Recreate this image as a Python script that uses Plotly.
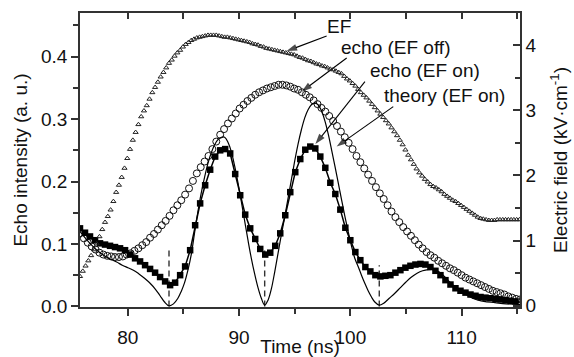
import plotly.graph_objects as go

# ---------------- data ----------------
# EF (right axis, kV/cm), regularly sampled
ef_t0, ef_dt = 75.7, 0.25
ef_vals = [0.45, 0.53, 0.61, 0.69, 0.77, 0.86, 0.95, 1.06, 1.17, 1.28,
           1.37, 1.47, 1.60, 1.74, 1.85, 1.97, 2.11, 2.26, 2.40, 2.54,
           2.66, 2.78, 2.90, 2.99, 3.07, 3.17, 3.27, 3.35, 3.43, 3.51,
           3.58, 3.65, 3.72, 3.77, 3.83, 3.88, 3.92, 3.97, 4.01, 4.04,
           4.07, 4.09, 4.11, 4.12, 4.13, 4.14, 4.15, 4.15, 4.15, 4.15,
           4.14, 4.13, 4.12, 4.12, 4.11, 4.10, 4.09, 4.08, 4.07, 4.06,
           4.05, 4.04, 4.02, 4.01, 4.00, 3.98, 3.97, 3.95, 3.94, 3.93,
           3.92, 3.91, 3.90, 3.89, 3.88, 3.87, 3.86, 3.85, 3.83, 3.81,
           3.80, 3.78, 3.76, 3.75, 3.73, 3.71, 3.70, 3.68, 3.67, 3.65,
           3.63, 3.62, 3.60, 3.58, 3.56, 3.52, 3.48, 3.45, 3.41, 3.37,
           3.32, 3.27, 3.23, 3.19, 3.14, 3.09, 3.04, 2.99, 2.94, 2.89,
           2.84, 2.79, 2.73, 2.67, 2.61, 2.54, 2.47, 2.39, 2.31, 2.24,
           2.17, 2.10, 2.04, 1.99, 1.94, 1.90, 1.86, 1.83, 1.81, 1.78,
           1.75, 1.71, 1.68, 1.65, 1.62, 1.60, 1.57, 1.54, 1.51, 1.48,
           1.45, 1.42, 1.39, 1.36, 1.34, 1.33, 1.32, 1.31, 1.31, 1.31,
           1.32, 1.32, 1.32, 1.32, 1.32, 1.32, 1.32, 1.32, 1.32]

# echo (EF off), open circles
off_t0, off_dt = 75.7, 0.35
off_vals = [0.117, 0.109, 0.102, 0.096, 0.091, 0.086, 0.083, 0.081, 0.080, 0.079,
            0.079, 0.080, 0.083, 0.085, 0.089, 0.093, 0.098, 0.103, 0.110, 0.116,
            0.123, 0.130, 0.137, 0.145, 0.154, 0.162, 0.170, 0.179, 0.189, 0.201,
            0.213, 0.223, 0.232, 0.241, 0.252, 0.264, 0.275, 0.284, 0.293, 0.301,
            0.309, 0.317, 0.323, 0.329, 0.334, 0.339, 0.343, 0.346, 0.349, 0.351,
            0.353, 0.355, 0.355, 0.354, 0.352, 0.349, 0.347, 0.343, 0.339, 0.335,
            0.330, 0.324, 0.318, 0.312, 0.305, 0.297, 0.289, 0.280, 0.271, 0.262,
            0.252, 0.241, 0.231, 0.221, 0.211, 0.201, 0.191, 0.181, 0.172, 0.162,
            0.152, 0.143, 0.135, 0.127, 0.120, 0.113, 0.106, 0.099, 0.093, 0.087,
            0.082, 0.078, 0.073, 0.069, 0.065, 0.061, 0.058, 0.054, 0.050, 0.046,
            0.043, 0.040, 0.037, 0.034, 0.031, 0.028, 0.025, 0.023, 0.021, 0.019,
            0.016, 0.014, 0.012, 0.011]

# echo (EF on), filled squares
on_t0, on_dt = 75.7, 0.45
on_vals = [0.125, 0.118, 0.112, 0.106, 0.101, 0.099, 0.097, 0.095, 0.093, 0.090,
           0.083, 0.077, 0.072, 0.066, 0.060, 0.054, 0.047, 0.040, 0.034, 0.038,
           0.050, 0.064, 0.090, 0.130, 0.165, 0.194, 0.219, 0.240, 0.250, 0.252,
           0.245, 0.212, 0.178, 0.147, 0.125, 0.108, 0.092, 0.083, 0.086, 0.097,
           0.117, 0.146, 0.183, 0.215, 0.236, 0.251, 0.256, 0.253, 0.240, 0.222,
           0.198, 0.180, 0.155, 0.126, 0.106, 0.087, 0.074, 0.063, 0.056, 0.050,
           0.048, 0.049, 0.050, 0.054, 0.058, 0.062, 0.065, 0.067, 0.068, 0.067,
           0.063, 0.057, 0.050, 0.042, 0.035, 0.029, 0.025, 0.022, 0.019, 0.017,
           0.015, 0.014, 0.013, 0.012, 0.011, 0.010, 0.009, 0.008, 0.007]

# theory (EF on), solid line
th_t = [75.7, 76.2, 76.6, 77.1, 77.5, 78.0, 78.5, 79.0, 79.5, 80.0,
        80.5, 81.0, 81.5, 82.0, 82.5, 82.9, 83.3, 83.7, 84.1, 84.5,
        84.8, 85.1, 85.4, 85.7, 86.0, 86.3, 86.6, 86.9, 87.2, 87.5,
        87.8, 88.1, 88.4, 88.7, 89.0, 89.3, 89.6, 89.9, 90.2, 90.5,
        90.8, 91.1, 91.4, 91.7, 92.0, 92.3, 92.6, 92.9, 93.2, 93.5,
        93.8, 94.1, 94.4, 94.7, 95.0, 95.3, 95.6, 95.9, 96.2, 96.5,
        96.8, 97.1, 97.4, 97.7, 98.0, 98.3, 98.6, 98.9, 99.2, 99.5,
        99.8, 100.1, 100.4, 100.7, 101.0, 101.3, 101.6, 101.9, 102.2, 102.6,
        103.0, 103.5, 104.0, 104.5, 105.0, 105.5, 106.0, 106.5, 107.0, 107.5,
        108.0, 108.5, 109.0, 109.5, 110.0, 110.5, 111.0, 111.5, 112.0, 113.0,
        114.0, 115.3]
th_v = [0.120, 0.109, 0.101, 0.092, 0.086, 0.080, 0.075, 0.071, 0.066, 0.062,
        0.058, 0.052, 0.045, 0.037, 0.027, 0.017, 0.007, 0.001, 0.004, 0.013,
        0.024, 0.038, 0.058, 0.083, 0.118, 0.152, 0.182, 0.207, 0.229, 0.246,
        0.259, 0.267, 0.271, 0.271, 0.263, 0.248, 0.225, 0.198, 0.168, 0.137,
        0.106, 0.077, 0.052, 0.030, 0.013, 0.002, 0.010, 0.028, 0.055, 0.085,
        0.115, 0.143, 0.173, 0.203, 0.233, 0.260, 0.283, 0.302, 0.315, 0.323,
        0.326, 0.323, 0.314, 0.298, 0.277, 0.252, 0.226, 0.199, 0.172, 0.145,
        0.120, 0.097, 0.077, 0.064, 0.050, 0.037, 0.025, 0.015, 0.007, 0.002,
        0.005, 0.013, 0.021, 0.030, 0.039, 0.047, 0.053, 0.057, 0.059, 0.059,
        0.055, 0.047, 0.038, 0.030, 0.023, 0.018, 0.013, 0.010, 0.008, 0.006,
        0.004, 0.003]

# dashed markers at the minima
min_t = [83.7, 92.3, 102.6]
min_top = [0.090, 0.096, 0.066]

# ticks
x_ticks = [80, 90, 100, 110]
y_ticks = [0.0, 0.1, 0.2, 0.3, 0.4]
y2_ticks = [0, 1, 2, 3, 4]

# label texts and their arrows (tail -> head, in data units of the left axis)
label_text = ["EF", "echo (EF off)", "echo (EF on)", "theory (EF on)"]
label_t = [98.97, 104.1, 106.7, 108.5]
label_v = [0.448, 0.415, 0.378, 0.338]
arrow_tail_t = [97.87, 99.67, 101.31, 103.86]
arrow_tail_v = [0.433, 0.398, 0.360, 0.320]
arrow_head_t = [94.27, 95.62, 96.86, 98.77]
arrow_head_v = [0.409, 0.344, 0.260, 0.256]

# ---------------- figure ----------------
FONT = "Arial, Liberation Sans, sans-serif"
fig = go.Figure()

dx, dy = [], []
for t, top in zip(min_t, min_top):
    dx += [t, t, None]
    dy += [0, top, None]
fig.add_trace(go.Scatter(x=dx, y=dy, mode="lines",
                         line=dict(color="#333", width=1.4, dash="6px,4px"),
                         showlegend=False, hoverinfo="skip"))

fig.add_trace(go.Scatter(x0=ef_t0, dx=ef_dt, y=ef_vals, mode="markers", yaxis="y2",
                         marker=dict(symbol="triangle-up-open", size=4.5,
                                     color="#222", line=dict(width=1, color="#222")),
                         name="EF", showlegend=False))
fig.add_trace(go.Scatter(x0=off_t0, dx=off_dt, y=off_vals, mode="markers",
                         marker=dict(symbol="circle-open", size=7,
                                     color="#111", line=dict(width=1, color="#111")),
                         name="echo (EF off)", showlegend=False))
fig.add_trace(go.Scatter(x=th_t, y=th_v, mode="lines", line_shape="spline",
                         line=dict(color="#000", width=1.2),
                         name="theory (EF on)", showlegend=False))
fig.add_trace(go.Scatter(x0=on_t0, dx=on_dt, y=on_vals, mode="lines+markers",
                         line=dict(color="#000", width=1.5),
                         marker=dict(symbol="square", size=6.5, color="#000"),
                         name="echo (EF on)", showlegend=False))

# arrows as line traces with an arrow marker at the head
for tt, tv, ht, hv in zip(arrow_tail_t, arrow_tail_v, arrow_head_t, arrow_head_v):
    fig.add_trace(go.Scatter(x=[tt, ht], y=[tv, hv], mode="lines+markers",
                             line=dict(color="#000", width=1.1),
                             marker=dict(symbol=["circle", "arrow"], size=[0, 11],
                                         angleref="previous", color="#000",
                                         line=dict(width=0)),
                             showlegend=False, hoverinfo="skip", cliponaxis=False))

# dummy trace for top mirror axis
fig.add_trace(go.Scatter(x=[None], y=[None], xaxis="x2", showlegend=False, hoverinfo="skip"))

axis_common = dict(showgrid=False, zeroline=False, showline=True, automargin=False,
                   linecolor="#333", linewidth=1.5, tickcolor="#333", tickwidth=1.5,
                   tickfont=dict(family=FONT, size=19, color="#111"))

fig.update_layout(
    width=574, height=357,
    margin=dict(l=80, r=54, t=13, b=50),
    paper_bgcolor="white", plot_bgcolor="white",
    font=dict(family=FONT, size=19, color="#111"),
    xaxis=dict(range=[75.7, 115.25], tickvals=x_ticks, ticks="outside", ticklen=7,
               ticklabelstandoff=5,
               minor=dict(dtick=5, ticks="outside", ticklen=5, tickcolor="#333", tickwidth=1.5),
               title=dict(text="Time (ns)", font=dict(family=FONT, size=19), standoff=1),
               **axis_common),
    xaxis2=dict(overlaying="x", matches="x", side="top", ticks="inside", ticklen=6,
                tickvals=x_ticks, showticklabels=False,
                minor=dict(dtick=5, ticks="inside", ticklen=6, tickcolor="#333", tickwidth=1.5),
                **axis_common),
    yaxis=dict(range=[-0.001, 0.47], tickvals=y_ticks, tickformat=".1f",
               ticks="outside", ticklen=7,
               minor=dict(dtick=0.05, ticks="outside", ticklen=5, tickcolor="#333", tickwidth=1.5),
               title=dict(text="Echo intensity (a. u.)", font=dict(family=FONT, size=19), standoff=8),
               **axis_common),
    yaxis2=dict(overlaying="y", side="right", range=[-0.02, 4.49], tickvals=y2_ticks,
                ticks="inside", ticklen=7,
                minor=dict(dtick=0.5, ticks="inside", ticklen=5, tickcolor="#333", tickwidth=1.5),
                title=dict(text="Electric field (kV·cm<sup>-1</sup>)",
                           font=dict(family=FONT, size=19), standoff=18),
                **axis_common),
)

for txt, x, y in zip(label_text, label_t, label_v):
    fig.add_annotation(x=x, y=y, xref="x", yref="y", text=txt, showarrow=False,
                       font=dict(family=FONT, size=19, color="#111"))

fig.write_html("out.html")
